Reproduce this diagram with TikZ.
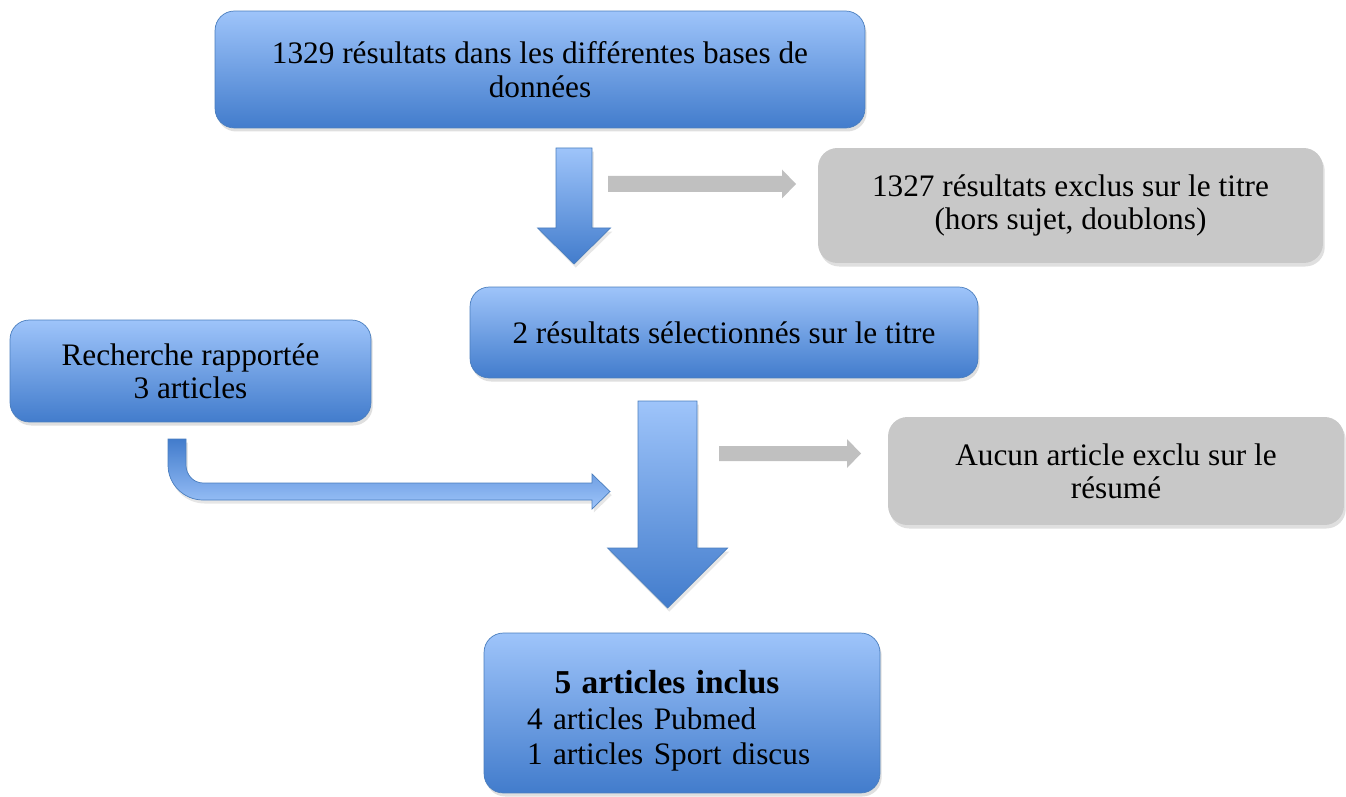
\documentclass[tikz,border=0pt]{standalone}
\usepackage{fontspec}
\setmainfont{Liberation Serif}
\usetikzlibrary{shadows}
\definecolor{boxtop}{RGB}{158,196,250}
\definecolor{boxbot}{RGB}{66,124,204}
\definecolor{boxline}{RGB}{74,126,190}
\definecolor{greyfill}{RGB}{200,200,200}
\definecolor{greyarrow}{RGB}{192,192,192}
\begin{document}
\begin{tikzpicture}[x=0.02cm,y=-0.02cm,
    bluebox/.style={draw=boxline,top color=boxtop,bottom color=boxbot,rounded corners=11pt,
      align=center,font=\fontsize{17.8}{19}\selectfont,
      drop shadow={opacity=0.25,shadow xshift=1pt,shadow yshift=-2pt}},
    greybox/.style={fill=greyfill,rounded corners=11pt,align=center,
      font=\fontsize{17.8}{19}\selectfont,
      drop shadow={opacity=0.25,shadow xshift=1pt,shadow yshift=-2pt}},
    bluearrow/.style={draw=boxline,thin,top color=boxtop,bottom color=boxbot,
      drop shadow={opacity=0.2,shadow xshift=1pt,shadow yshift=-2pt}},
    greyarrowfill/.style={fill=greyarrow}]
  \useasboundingbox (0,0) rectangle (1346,797);
  % boxes
  \node[bluebox,minimum width=13cm,minimum height=2.34cm] (bases) at (540,69.5)
    {1329 résultats dans les différentes bases de\\données};
  \node[greybox,minimum width=10.1cm,minimum height=2.3cm] (exclus) at (1070.5,205.5)
    {1327 résultats exclus sur le titre\\(hors sujet, doublons)};
  \node[bluebox,minimum width=10.16cm,minimum height=1.82cm] (titre) at (724,332.5)
    {2 résultats sélectionnés sur le titre};
  \node[bluebox,minimum width=7.22cm,minimum height=2.04cm] (recherche) at (190.5,371)
    {Recherche rapportée\\3 articles};
  \node[greybox,minimum width=9.12cm,minimum height=2.16cm] (resume) at (1116,471)
    {Aucun article exclu sur le\\résumé};
  \node[bluebox,minimum width=7.92cm,minimum height=3.2cm,text width=6.2cm,align=left,
    inner xsep=0.86cm,font=\fontsize{17.8}{20.4}\selectfont] (inclus) at (682,713)
    {\rule{0pt}{22pt}\hspace*{0.55cm}{\fontsize{19}{20.4}\selectfont\textbf{5 articles inclus}}\\
     4 articles Pubmed\\1 articles Sport discus};
  % arrows
  \draw[bluearrow,shift={(574,148)}] (-18,0) -- (18,0) -- (18,80) -- (36.5,80) -- (0,116)
    -- (-36.5,80) -- (-18,80) -- cycle;
  \draw[bluearrow,shift={(667.5,401)}] (-29.5,0) -- (29.5,0) -- (29.5,147) -- (60,147)
    -- (0,207) -- (-60,147) -- (-29.5,147) -- cycle;
  \draw[bluearrow,top color=boxbot,bottom color=boxtop,shift={(168,439)}] (0,0) -- (0,26)
    .. controls (0,45.3) and (15.7,61) .. (35,61) -- (424,61) -- (424,70) -- (442,52.5)
    -- (424,35) -- (424,44) -- (35,44) .. controls (25.6,44) and (18,35.9) .. (18,26)
    -- (18,0) -- cycle;
  \fill[greyarrowfill,shift={(608,184)}] (0,-8) -- (174,-8) -- (174,-14.5) -- (188,0)
    -- (174,14.5) -- (174,8) -- (0,8) -- cycle;
  \fill[greyarrowfill,shift={(719,453.5)}] (0,-7.5) -- (128,-7.5) -- (128,-14.5) -- (142,0)
    -- (128,14.5) -- (128,7.5) -- (0,7.5) -- cycle;
\end{tikzpicture}
\end{document}
